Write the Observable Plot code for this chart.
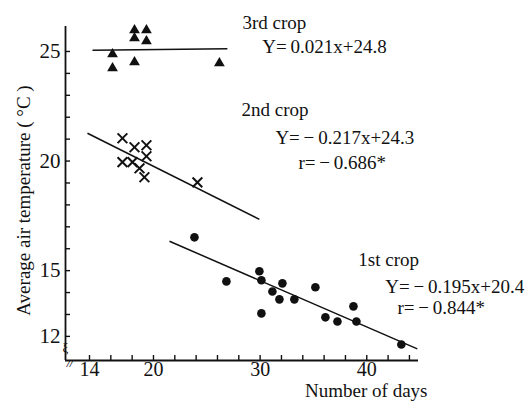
<!DOCTYPE html>
<html>
<head>
<meta charset="utf-8">
<script src="https://cdn.jsdelivr.net/npm/d3@7"></script>
<script src="https://cdn.jsdelivr.net/npm/@observablehq/plot@0.6"></script>
<style>
  html, body { margin: 0; padding: 0; background: #fff; }
  #chart svg { display: block; }
</style>
</head>
<body>
<div id="chart"></div>
<script>
// ---- data ----
// 1st crop (filled circles)
const crop1X = [23.84, 26.84, 29.93, 30.12, 31.15, 32.09, 31.81, 33.21, 30.12, 35.18, 36.12, 37.25, 38.75, 39.03, 43.24];
const crop1Y = [16.52, 14.51, 14.97, 14.56, 14.05, 14.42, 13.69, 13.69, 13.05, 14.24, 12.87, 12.68, 13.37, 12.68, 11.63];
// 2nd crop (crosses)
const crop2X = [17.09, 18.22, 19.34, 19.34, 17.09, 18.03, 18.69, 19.15, 24.12];
const crop2Y = [21.04, 20.63, 20.72, 20.22, 19.95, 19.95, 19.67, 19.26, 19.03];
// 3rd crop (triangles)
const crop3X = [16.16, 16.16, 18.22, 18.22, 19.34, 19.34, 18.22, 26.18];
const crop3Y = [24.88, 24.24, 25.97, 25.61, 25.97, 25.47, 24.51, 24.47];

// fitted lines (1st, 2nd, 3rd crop) as drawn
const fitX1 = [21.5, 13.81, 14.28];
const fitY1 = [16.34, 21.27, 25.06];
const fitX2 = [44.74, 29.93, 26.93];
const fitY2 = [11.43, 17.34, 25.13];

// annotation texts and their anchors (data units)
const noteText = ["3rd crop", "Y=\u20090.021x+24.8", "2nd crop", "Y=\u2009\u2212\u20090.217x+24.3", "r=\u2009\u2212\u20090.686*",
                  "1st crop", "Y=\u2009\u2212\u20090.195x+20.4", "r=\u2009\u2212\u20090.844*"];
const noteX = [28.34, 30.21, 28.25, 31.43, 33.59, 39.21, 41.74, 42.87];
const noteY = [26.29, 25.2, 22.32, 21.04, 19.9, 15.47, 14.28, 13.28];

// axes
const xDomain = [11.75, 44.85];
const yDomain = [10.9, 26.14];
const xTickLabels = [14, 20, 30, 40];
const xMinorTicks = d3.range(14, 45, 2);
const yTickLabels = [12, 15, 20, 25];
const yMinorTicks = d3.range(12, 26, 1);
const xTitle = "Number of days";
const yTitle = "Average air temperature ( \u00B0C )";

// ---- build tables ----
const crop1 = crop1X.map((x, i) => ({x, y: crop1Y[i]}));
const crop2 = crop2X.map((x, i) => ({x, y: crop2Y[i]}));
const crop3 = crop3X.map((x, i) => ({x, y: crop3Y[i]}));
const fits = fitX1.map((x1, i) => ({x1, y1: fitY1[i], x2: fitX2[i], y2: fitY2[i]}));
const notes = noteText.map((t, i) => ({t, x: noteX[i], y: noteY[i]}));

const W = 529, H = 401;
const mL = 65, mR = 111, mT = 26, mB = 41;
const plotW = W - mL - mR, plotH = H - mT - mB;

const chart = Plot.plot({
  width: W,
  height: H,
  marginLeft: mL,
  marginRight: mR,
  marginTop: mT,
  marginBottom: mB,
  style: {fontFamily: "'Liberation Serif', 'DejaVu Serif', serif", background: "#fff", color: "#111"},
  x: {domain: xDomain},
  y: {domain: yDomain},
  marks: [
    Plot.axisX({ticks: xTickLabels, tickSize: 0, tickPadding: 1, fontSize: 20, label: null, fill: "#111"}),
    Plot.axisY({ticks: yTickLabels, tickSize: 0, tickPadding: 5, fontSize: 21, label: null, fill: "#111"}),
    Plot.tickX(xMinorTicks, {x: d => d, insetTop: plotH - 5, stroke: "#111", strokeWidth: 1.4}),
    Plot.tickY(yMinorTicks, {y: d => d, insetRight: plotW - 5, stroke: "#111", strokeWidth: 1.4}),
    Plot.ruleX([xDomain[0]], {stroke: "#111", strokeWidth: 1.8}),
    Plot.ruleY([yDomain[0]], {stroke: "#111", strokeWidth: 1.8}),
    Plot.text(["//"], {x: xDomain[0] + 0.4, y: yDomain[0], dy: 3, fontSize: 11, fontStyle: "italic", fill: "#111", fontWeight: "bold"}),
    Plot.text(["\u03BE"], {x: xDomain[0], y: 11.5, fontSize: 13, fill: "#111"}),
    Plot.link(fits, {x1: "x1", y1: "y1", x2: "x2", y2: "y2", stroke: "#111", strokeWidth: 1.5}),
    Plot.dot(crop1, {x: "x", y: "y", r: 4.3, fill: "#111", symbol: "circle"}),
    Plot.dot(crop2, {x: "x", y: "y", r: 4.5, stroke: "#111", strokeWidth: 2, symbol: "times"}),
    Plot.dot(crop3, {x: "x", y: "y", r: 4, fill: "#111", symbol: "triangle"}),
    Plot.text(notes, {x: "x", y: "y", text: "t", textAnchor: "start", lineAnchor: "middle", fontSize: 19, fill: "#111"}),
    Plot.text([yTitle], {frameAnchor: "left", textAnchor: "middle", lineAnchor: "middle", rotate: -90, dx: -42, dy: 7, fontSize: 19, fill: "#111"}),
    Plot.text([xTitle], {frameAnchor: "bottom-right", textAnchor: "end", lineAnchor: "middle", dx: 9, dy: 30.5, fontSize: 19, fill: "#111"})
  ]
});
document.getElementById("chart").appendChild(chart);
</script>
</body>
</html>
